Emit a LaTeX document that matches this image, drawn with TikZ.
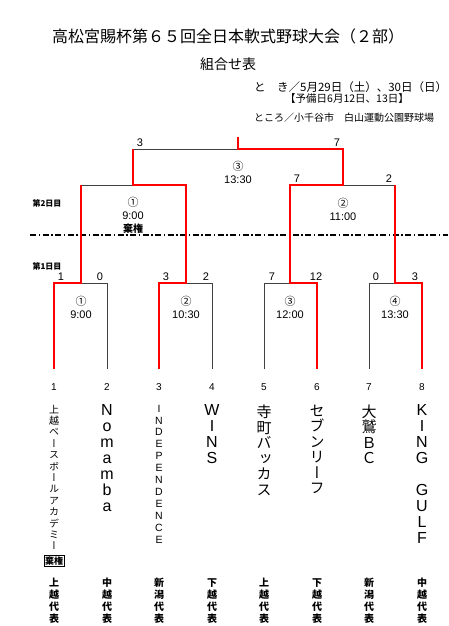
\documentclass[tikz,border=0pt]{standalone}
\usepackage{fontspec}
\setmainfont{Liberation Sans}
\newfontfamily\jpfont{Noto Sans CJK JP}
\newfontfamily\jpvfont[RawFeature=+vert]{Noto Sans CJK JP}
\usetikzlibrary{positioning}

\begin{document}
\begin{tikzpicture}[
    x=1pt, y=-1pt,
    win/.style={draw=red, line width=2.6pt},
    lose/.style={draw=black!75, line width=0.9pt},
    score/.style={font=\fontsize{11}{11}\selectfont, inner sep=0pt},
    match/.style={font=\fontsize{11}{13}\selectfont, align=center, inner sep=0pt},
    seed/.style={font=\fontsize{10}{10}\selectfont, inner sep=0pt},
    team/.style={align=center, inner sep=0pt},
    bigteam/.style={team, font=\jpvfont\fontsize{15}{15.5}\selectfont},
    latinteam/.style={team, font=\fontsize{16}{16}\selectfont},
    smallteam/.style={team, font=\jpvfont\fontsize{10}{11.4}\selectfont},
    smalllatin/.style={team, font=\fontsize{10.5}{11.9}\selectfont},
    rep/.style={anchor=north, align=center, inner sep=0pt, font=\jpfont\bfseries\fontsize{10}{12}\selectfont},
    day/.style={font=\jpfont\bfseries\fontsize{8}{8}\selectfont, inner sep=0pt}
]
\useasboundingbox (0,0) rectangle (448,626);

% Heading
\node[font=\jpfont\fontsize{16}{16}\selectfont] (title) at (228,36) {高松宮賜杯第６５回全日本軟式野球大会（２部）};
\node[font=\jpfont\fontsize{14}{14}\selectfont, below=7pt of title] (subtitle) {組合せ表};
\node[font=\jpfont\fontsize{11.5}{11.5}\selectfont, anchor=west, inner sep=0pt] (when) at (254,87) {と　き／5月29日（土）、30日（日）};
\node[font=\jpfont\fontsize{10.5}{10.5}\selectfont, anchor=west, inner sep=0pt] (spare) at (285,99) {【予備日6月12日、13日】};
\node[font=\jpfont\fontsize{10}{10}\selectfont, anchor=west, inner sep=0pt] (where) at (254,118) {ところ／小千谷市　白山運動公園野球場};

% Bracket points
\coordinate (f1) at (54,369);
\coordinate (f2) at (107,369);
\coordinate (f3) at (159,369);
\coordinate (f4) at (212,369);
\coordinate (f5) at (264,369);
\coordinate (f6) at (317,369);
\coordinate (f7) at (369,369);
\coordinate (f8) at (422,369);
\coordinate (m1) at (81,283);
\coordinate (m2) at (186,283);
\coordinate (m3) at (290,283);
\coordinate (m4) at (395,283);
\coordinate (q1) at (81,185);
\coordinate (q2) at (186,185);
\coordinate (q3) at (290,185);
\coordinate (q4) at (395,185);
\coordinate (semi_a) at (133,185);
\coordinate (semi_b) at (343,185);
\coordinate (fin_l) at (133,149);
\coordinate (fin_r) at (343,149);
\coordinate (fin) at (238,149);
\coordinate (champ) at (238,137);

% Day divider
\coordinate (div_l) at (30,235);
\coordinate (div_r) at (448,235);
\draw[line width=1.3pt, dash pattern=on 6pt off 2.5pt on 1.5pt off 2.5pt] (div_l) -- (div_r);
\node[day] (day2) at (47,203) {第2日目};
\node[day] (day1) at (47,266) {第1日目};

% Losing lines
\draw[lose] (m1) -| (f2);
\draw[lose] (m2) -| (f4);
\draw[lose] (m3) -| (f5);
\draw[lose] (m4) -| (f7);
\draw[lose] (q1) -- (semi_a);
\draw[lose] (semi_b) -- (q4);
\draw[lose] (fin_l) -- (fin);

% Winning lines
\draw[win] (f1) |- (m1) -- (q1);
\draw[win] (f3) |- (m2) -- (q2) -- (semi_a) -- (fin_l);
\draw[win] (f6) |- (m3) -- (q3) -- (semi_b) -- (fin_r) -- (fin) -- (champ);
\draw[win] (f8) |- (m4) -- (q4);

% Scores
\node[score] (sc1) at (61,277) {1};
\node[score] (sc2) at (100,277) {0};
\node[score] (sc3) at (166,277) {3};
\node[score] (sc4) at (206,277) {2};
\node[score] (sc5) at (272,277) {7};
\node[score] (sc6) at (316,277) {12};
\node[score] (sc7) at (376,277) {0};
\node[score] (sc8) at (415,277) {3};
\node[score] (sc9) at (297,179) {7};
\node[score] (sc10) at (389,179) {2};
\node[score] (sc11) at (140,143) {3};
\node[score] (sc12) at (337,143) {7};

% Games
\node[match] (game1) at (81,307.5) {{\jpfont ①}\\9:00};
\node[match] (game2) at (186,307.5) {{\jpfont ②}\\10:30};
\node[match] (game3) at (290,307.5) {{\jpfont ③}\\12:00};
\node[match] (game4) at (395,307.5) {{\jpfont ④}\\13:30};
\node[match] (semi1) at (133,215.5) {{\jpfont ①}\\9:00\\{\jpfont\bfseries\fontsize{10}{10}\selectfont 棄権}};
\node[match] (semi2) at (343,209.5) {{\jpfont ②}\\11:00};
\node[match] (final) at (238,172.5) {{\jpfont ③}\\13:30};

% Teams
\node[seed] (seed1) at (54,387) {1};
\node[seed] (seed2) at (107,387) {2};
\node[seed] (seed3) at (159,387) {3};
\node[seed] (seed4) at (212,387) {4};
\node[seed] (seed5) at (264,387) {5};
\node[seed] (seed6) at (317,387) {6};
\node[seed] (seed7) at (369,387) {7};
\node[seed] (seed8) at (422,387) {8};

\node[smallteam, below=14pt of seed1] (team1) {上\\越\\ベ\\ー\\ス\\ボ\\ー\\ル\\ア\\カ\\デ\\ミ\\ー};
\node[draw, line width=0.8pt, inner sep=1pt, font=\jpfont\bfseries\fontsize{9}{9}\selectfont, below=5pt of team1] (forfeit1) {棄権};
\node[latinteam, below=14pt of seed2] (team2) {N\\o\\m\\a\\m\\b\\a};
\node[smalllatin, below=14pt of seed3] (team3) {I\\N\\D\\E\\P\\E\\N\\D\\E\\N\\C\\E};
\node[latinteam, below=14pt of seed4] (team4) {W\\I\\N\\S};
\node[bigteam, below=14pt of seed5] (team5) {寺\\町\\バ\\ッ\\カ\\ス};
\node[bigteam, below=14pt of seed6] (team6) {セ\\ブ\\ン\\リ\\ー\\フ};
\node[bigteam, below=14pt of seed7] (team7) {大\\鷲\\Ｂ\\Ｃ};
\node[latinteam, below=14pt of seed8] (team8) {K\\I\\N\\G\\\mbox{}\\G\\U\\L\\F};

% Districts
\node[rep] (rep1) at (54,578) {上\\越\\代\\表};
\node[rep] (rep2) at (107,578) {中\\越\\代\\表};
\node[rep] (rep3) at (159,578) {新\\潟\\代\\表};
\node[rep] (rep4) at (212,578) {下\\越\\代\\表};
\node[rep] (rep5) at (264,578) {上\\越\\代\\表};
\node[rep] (rep6) at (317,578) {下\\越\\代\\表};
\node[rep] (rep7) at (369,578) {新\\潟\\代\\表};
\node[rep] (rep8) at (422,578) {中\\越\\代\\表};

\end{tikzpicture}
\end{document}
